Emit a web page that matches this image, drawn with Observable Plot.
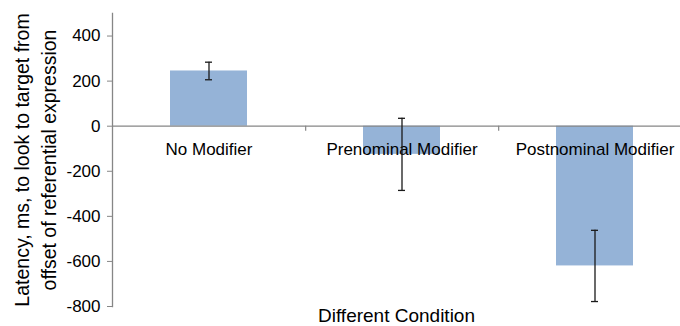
<!DOCTYPE html>
<html>
<head>
<meta charset="utf-8">
<script src="https://cdn.jsdelivr.net/npm/d3@7"></script>
<script src="https://cdn.jsdelivr.net/npm/@observablehq/plot@0.6"></script>
<style>
  html, body { margin: 0; padding: 0; background: #fff; }
  #chart svg { display: block; }
</style>
</head>
<body>
<div id="chart"></div>
<script>
// Data
const categories = ["No Modifier", "Prenominal Modifier", "Postnominal Modifier"];
const means = [245, -125, -620];
const errors = [39, 160, 158];
const yTicks = [400, 200, 0, -200, -400, -600, -800];
const yTitle = "Latency, ms, to look to target from\noffset of referential expression";
const xTitle = "Different Condition";

const rows = categories.map((c, i) => ({cat: c, mean: means[i], lo: means[i] - errors[i], hi: means[i] + errors[i]}));

const W = 680, H = 326;
const mL = 112, mT = 13, mB = 20;
const xRange = [mL, 692];
const step = (xRange[1] - xRange[0]) / categories.length;
const font = "'Liberation Sans', Arial, Helvetica, sans-serif";
const axisGray = "#868686";

const chart = Plot.plot({
  width: W,
  height: H,
  marginLeft: mL,
  marginRight: 0,
  marginTop: mT,
  marginBottom: mB,
  style: {fontFamily: font, fontSize: "17px", color: "#000", background: "#fff"},
  x: {domain: categories, range: xRange, paddingInner: 0.6, paddingOuter: 0.3, axis: null},
  y: {domain: [-800, 500], axis: null},
  marks: [
    Plot.barY(rows, {x: "cat", y: "mean", fill: "#95B3D7"}),
    Plot.ruleY([0], {stroke: axisGray, strokeWidth: 1.3}),
    Plot.ruleX(categories.slice(0, categories.length - 1), {x: d => d, y1: 0, y2: 0, insetBottom: -5, dx: step / 2, stroke: axisGray, strokeWidth: 1.2}),
    Plot.frame({anchor: "left", stroke: axisGray, strokeWidth: 1.3}),
    Plot.axisY({ticks: yTicks, tickSize: 5, tickPadding: 7, tickFormat: d => `${d}`, stroke: axisGray, fill: "#000", fontSize: 17}),
    Plot.text(categories, {x: d => d, y: 0, dy: 29, lineAnchor: "bottom", fontSize: 17, fill: "#000"}),
    Plot.ruleX(rows, {x: "cat", y1: "lo", y2: "hi", stroke: "#1a1a1a", strokeWidth: 1.3}),
    Plot.tickY(rows, {x: "cat", y: "lo", insetLeft: 35, insetRight: 35, stroke: "#1a1a1a", strokeWidth: 1.3}),
    Plot.tickY(rows, {x: "cat", y: "hi", insetLeft: 35, insetRight: 35, stroke: "#1a1a1a", strokeWidth: 1.3}),
    Plot.text([yTitle], {frameAnchor: "left", rotate: -90, dx: 55 - mL, lineAnchor: "bottom", lineHeight: 1.38, textAnchor: "middle", fontSize: 19.5, fill: "#000"}),
    Plot.text([xTitle], {frameAnchor: "bottom", dx: 0, dy: 15, lineAnchor: "bottom", fontSize: 19, fill: "#000"})
  ]
});
document.getElementById("chart").appendChild(chart);
</script>
</body>
</html>
